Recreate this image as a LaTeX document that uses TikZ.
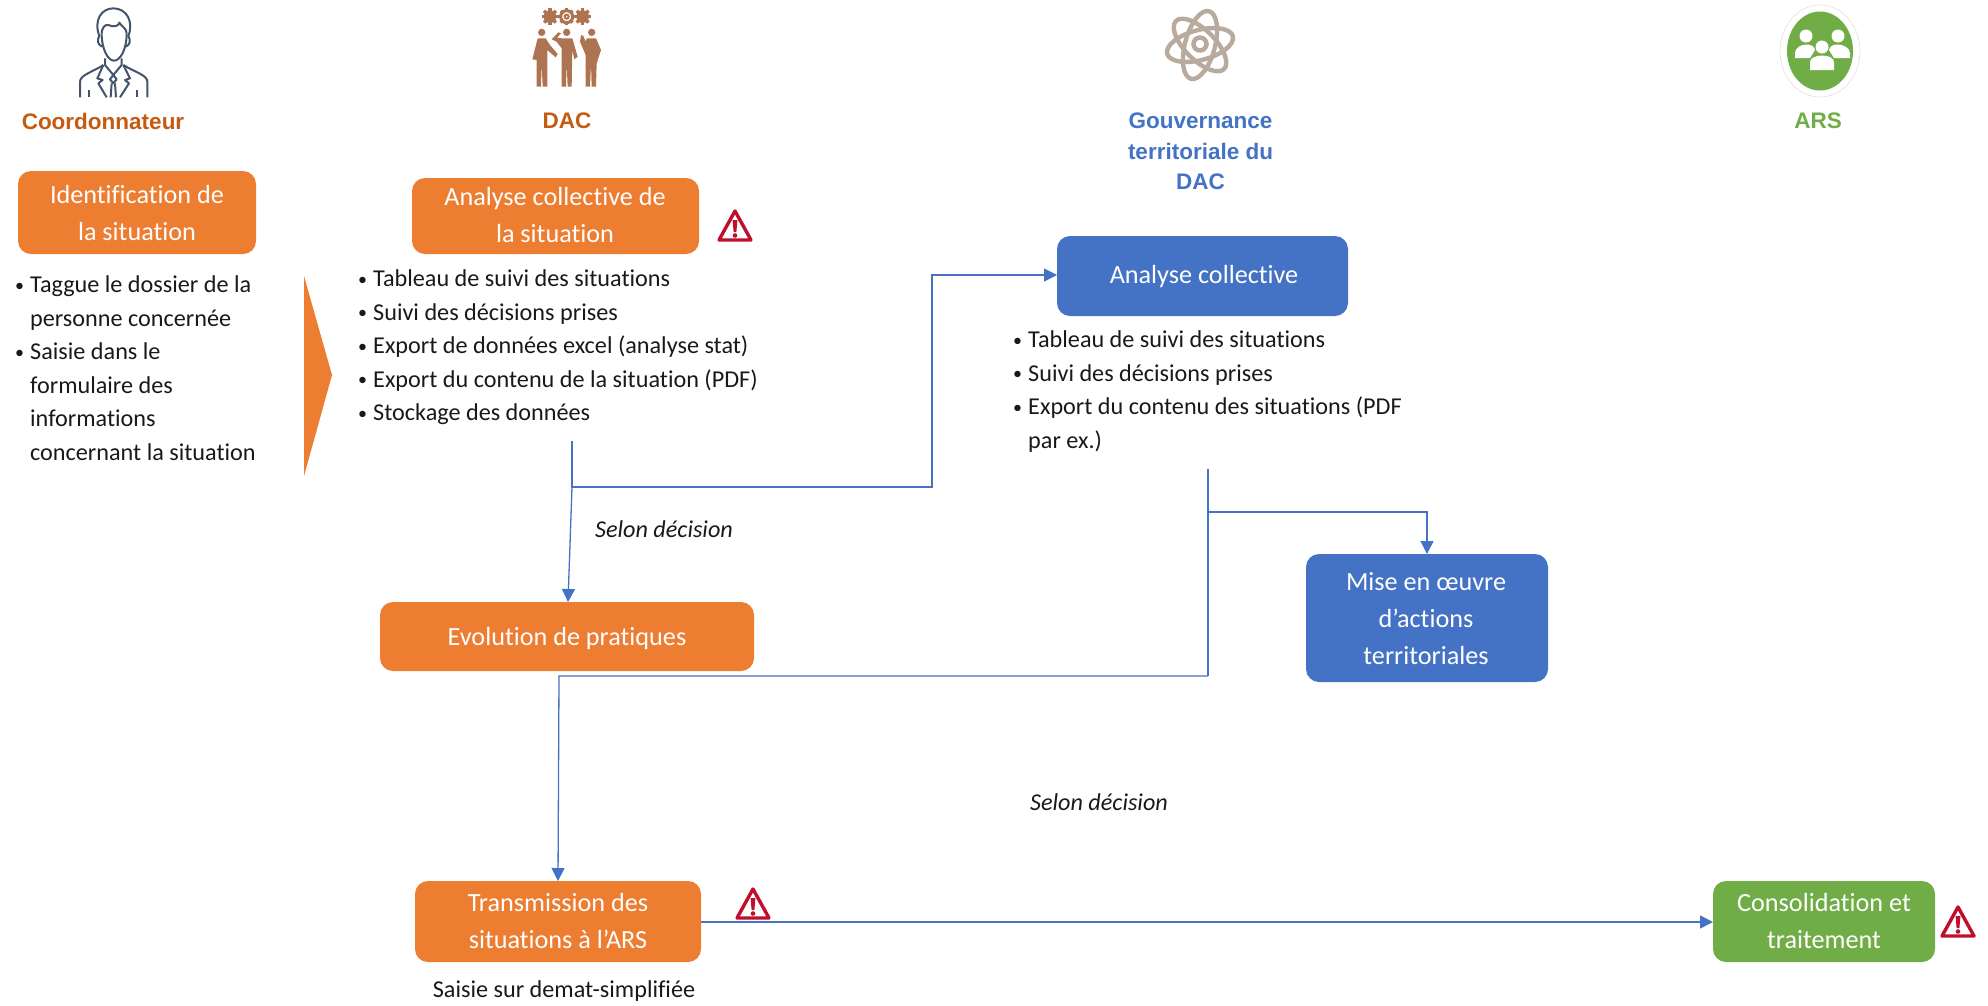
\documentclass[tikz,border=0pt]{standalone}
\usepackage{fontspec}
\setmainfont[Ligatures={NoCommon,TeX}]{Carlito}
\newfontfamily\headfont{Liberation Sans}
\usetikzlibrary{arrows.meta}
\definecolor{org}{HTML}{ED7D31}
\definecolor{blu}{HTML}{4472C4}
\definecolor{grn}{HTML}{70AD47}
\definecolor{hdorg}{HTML}{C55A11}
\definecolor{warn}{HTML}{C00F2D}
\definecolor{brownic}{HTML}{AE7350}
\definecolor{slateic}{HTML}{44546A}
\definecolor{greyic}{HTML}{B8AA9C}
\tikzset{
 x=1pt,y=-1pt,
 boxo/.style={draw=none,rounded corners=13pt,fill=#1,text=white,align=center,font=\fontsize{26.2}{37}\selectfont,anchor=center,inner sep=0pt},
 hd/.style={font=\headfont\bfseries\fontsize{22.5}{30.5}\selectfont,align=center,text=#1},
 body/.style={font=\fontsize{24.2}{33.6}\selectfont,align=left,anchor=north west,text=black!90,inner sep=0pt},
 lab/.style={font=\itshape\fontsize{24.2}{30}\selectfont,text=black!90,inner sep=0pt},
 conn/.style={draw=blu,line width=1.3pt},
 arr/.style={conn,-{Triangle[length=13pt,width=13pt]}},
 warnstyle/.pic={
   \draw[warn,line width=3.4pt,line join=round,fill=white] (-16,14)--(0,-15)--(16,14)--cycle;
   \fill[warn] (-2.4,-6)--(2.4,-6)--(1.4,6)--(-1.4,6)--cycle;
   \fill[warn] (0,9.5) circle (2.3);
 }
}
\newcommand{\blist}[2]{\parbox[t]{#1}{\setlength{\parindent}{0pt}#2}}
\newcommand{\bi}{\hangindent=18pt\hangafter=1\makebox[18pt][l]{\hspace{3pt}\raisebox{1.5pt}{\fontsize{18}{18}\selectfont •}}}
\begin{document}
\begin{tikzpicture}
\useasboundingbox (0,0) rectangle (1988,1005);
% Boxes
\path[rounded corners=13pt,fill=org] (18,171) rectangle (256,254);
\node[boxo=org,fill=none] (id) at (137,212.5) {Identification de\\la situation};
\path[rounded corners=13pt,fill=org] (412,178) rectangle (699,254);
\node[boxo=org,fill=none] (ac) at (555,215) {Analyse collective de\\la situation};
\path[rounded corners=13pt,fill=blu] (1057,236) rectangle (1348,316);
\node[boxo=blu,fill=none] (ab) at (1204,277) {Analyse collective};
\path[rounded corners=13pt,fill=blu] (1306,554) rectangle (1548,682);
\node[boxo=blu,fill=none] (mo) at (1426,619) {Mise en œuvre\\d’actions\\territoriales};
\path[rounded corners=13pt,fill=org] (380,602) rectangle (754,671);
\node[boxo=org,fill=none] (ev) at (567,638.5) {Evolution de pratiques};
\path[rounded corners=13pt,fill=org] (415,881) rectangle (701,962);
\node[boxo=org,fill=none] (tr) at (558,921) {Transmission des\\situations à l’ARS};
\path[rounded corners=13pt,fill=grn] (1713,881) rectangle (1935,962);
\node[boxo=grn,fill=none] (co) at (1824,921) {Consolidation et\\traitement};
% Anchors on box edges
\coordinate (abW) at (1057,275);
\coordinate (evN) at (568,602);
\coordinate (moN) at (1427,554);
\coordinate (trN) at (558,881);
\coordinate (trE) at (701,922);
\coordinate (coW) at (1713,922);
\coordinate (s1) at (572,441);
\coordinate (s1b) at (572,487);
\coordinate (s1c) at (932,487);
\coordinate (s1d) at (932,275);
\coordinate (s2) at (1208,469);
\coordinate (s2b) at (1208,512);
\coordinate (s2c) at (1427,512);
\coordinate (s2d) at (1208,676);
\coordinate (s2e) at (559,676);
% Connectors
\draw[arr] (s1) -- (s1b) -- (s1c) -- (s1d) -- (abW);
\draw[arr] (s1b) -- (evN);
\draw[conn] (s2) -- (s2d);
\draw[arr] (s2b) -- (s2c) -- (moN);
\draw[arr] (s2d) -- (s2e) -- (trN);
\draw[arr] (trE) -- (coW);
% Headers
\node[hd=hdorg] (h1) at (103,121) {Coordonnateur};
\node[hd=hdorg] (h2) at (567,121) {DAC};
\node[hd=blu] (h3) at (1200.5,151.5) {Gouvernance\\territoriale du\\DAC};
\node[hd=grn] (h4) at (1818,121) {ARS};
% Body lists
\node[body] (l1) at (12,275.5) {\blist{260pt}{\bi Taggue le dossier de la\\personne concernée\par\bi Saisie dans le\\formulaire des\\informations\\concernant la situation}};
\node[body] (l2) at (355,269.5) {\blist{480pt}{\bi Tableau de suivi des situations\par\bi Suivi des décisions prises\par\bi Export de données excel (analyse stat)\par\bi Export du contenu de la situation (PDF)\par\bi Stockage des données}};
\node[body] (l3) at (1010,330.5) {\blist{420pt}{\bi Tableau de suivi des situations\par\bi Suivi des décisions prises\par\bi Export du contenu des situations (PDF\\par ex.)}};
\node[lab] (sd1) at (664,529) {Selon décision};
\node[lab] (sd2) at (1099,802) {Selon décision};
\node[font=\fontsize{24.2}{30}\selectfont,text=black!90,inner sep=0pt] (sa) at (564,991) {Saisie sur demat-simplifiée};
% Orange chevron
\fill[org] (304,276) -- (332,375) -- (304,476) -- cycle;
% Warning signs
\pic at (735,226) {warnstyle};
\pic at (753,904) {warnstyle};
\pic at (1958,922) {warnstyle};
% Person icon
\begin{scope}[shift={(60,0)},scale=1/3,draw=slateic,line width=2pt,line join=round,line cap=butt]
 \draw (118,108) .. controls (100,60) and (125,25) .. (160,25) .. controls (200,25) and (222,65) .. (205,108);
 \draw (125,100) .. controls (125,150) and (145,182) .. (162,182) .. controls (180,182) and (200,150) .. (200,100);
 \draw (125,100) .. controls (125,85) and (135,72) .. (145,75) .. controls (160,82) and (175,80) .. (178,68) .. controls (185,80) and (200,85) .. (200,100);
 \draw (118,108) .. controls (110,120) and (113,135) .. (127,140);
 \draw (205,108) .. controls (213,120) and (210,135) .. (198,140);
 \draw (135,175) -- (135,195) -- (160,225) -- (185,195) -- (185,175);
 \draw (60,292) -- (60,245) .. controls (60,225) and (100,215) .. (130,195);
 \draw (262,292) -- (262,245) .. controls (262,225) and (222,215) .. (190,195);
 \draw (130,195) -- (112,235) -- (128,240) -- (115,250) -- (140,292);
 \draw (190,195) -- (210,235) -- (195,240) -- (207,250) -- (180,292);
 \draw (160,225) -- (150,238) -- (160,250) -- (170,238) -- cycle;
 \draw (155,250) -- (152,292) (165,250) -- (168,292);
 \draw (88,270) -- (88,292) (230,270) -- (230,292);
\end{scope}
% Team icon
\begin{scope}[shift={(515,0)},scale=1/3,fill=brownic]
 \foreach \gx in {105,203}{
   \fill (\gx,50) circle (19);
   \foreach \a in {0,45,...,315}{\fill[rotate around={\a:(\gx,50)}] (\gx-5,25) rectangle (\gx+5,36);}
 }
 \foreach \a in {0,45,...,315}{\fill[rotate around={\a:(155,50)}] (150,25) rectangle (160,36);}
 \draw[brownic,line width=3pt] (155,50) circle (18);
 \draw[brownic,line width=2pt] (155,50) circle (6);
 \fill (80,97) circle (11);
 \fill (155,97) circle (11);
 \fill (230,97) circle (11);
 \fill (68,115) -- (92,115) -- (105,135) -- (128,162) -- (122,172) -- (97,150) -- (97,260) -- (83,260) -- (80,190) -- (78,260) -- (65,260) -- (65,180) -- (52,178) -- cycle;
 \fill (140,115) -- (172,115) -- (188,170) -- (178,178) -- (172,150) -- (170,260) -- (158,260) -- (155,190) -- (153,260) -- (140,260) -- (140,145) -- (125,125) -- (110,118) -- (130,97) -- (138,100) -- (126,113) -- cycle;
 \fill (215,115) -- (243,115) -- (258,150) -- (245,190) -- (243,260) -- (230,260) -- (228,190) -- (225,260) -- (212,260) -- (212,165) -- (195,125) -- (198,105) -- (205,108) -- (212,125) -- cycle;
\end{scope}
% Atom icon
\begin{scope}[greyic,line width=4.4pt]
 \draw[rotate around={75:(1200,45)}] (1200,45) ellipse (35 and 15);
 \draw[rotate around={135:(1200,45)}] (1200,45) ellipse (34 and 15);
 \draw[rotate around={15:(1200,45)}] (1200,45) ellipse (34 and 15);
 \draw[line width=4.5pt] (1200,44) circle (6.5);
\end{scope}
% ARS icon
\draw[black!12,line width=.6pt] (1820,51) ellipse (40 and 46);
\fill[grn] (1820,51) ellipse (33 and 39.5);
\begin{scope}[white]
 \fill (1806,36) circle (6.5);
 \fill (1838,36) circle (6.5);
 \fill (1822,47) circle (6.5);
 \fill (1795,58) -- (1795,53) .. controls (1795,48) and (1801,44.5) .. (1806,44.5) .. controls (1811,44.5) and (1814,46) .. (1815,50) -- (1810,58) -- cycle;
 \fill (1850,58) -- (1850,53) .. controls (1850,48) and (1843,44.5) .. (1838,44.5) .. controls (1833,44.5) and (1830,46) .. (1829,50) -- (1834,58) -- cycle;
 \fill (1810,70) -- (1810,62) .. controls (1810,58) and (1816,55.5) .. (1822,55.5) .. controls (1828,55.5) and (1834,58) .. (1834,62) -- (1834,70) -- cycle;
\end{scope}
\end{tikzpicture}
\end{document}
